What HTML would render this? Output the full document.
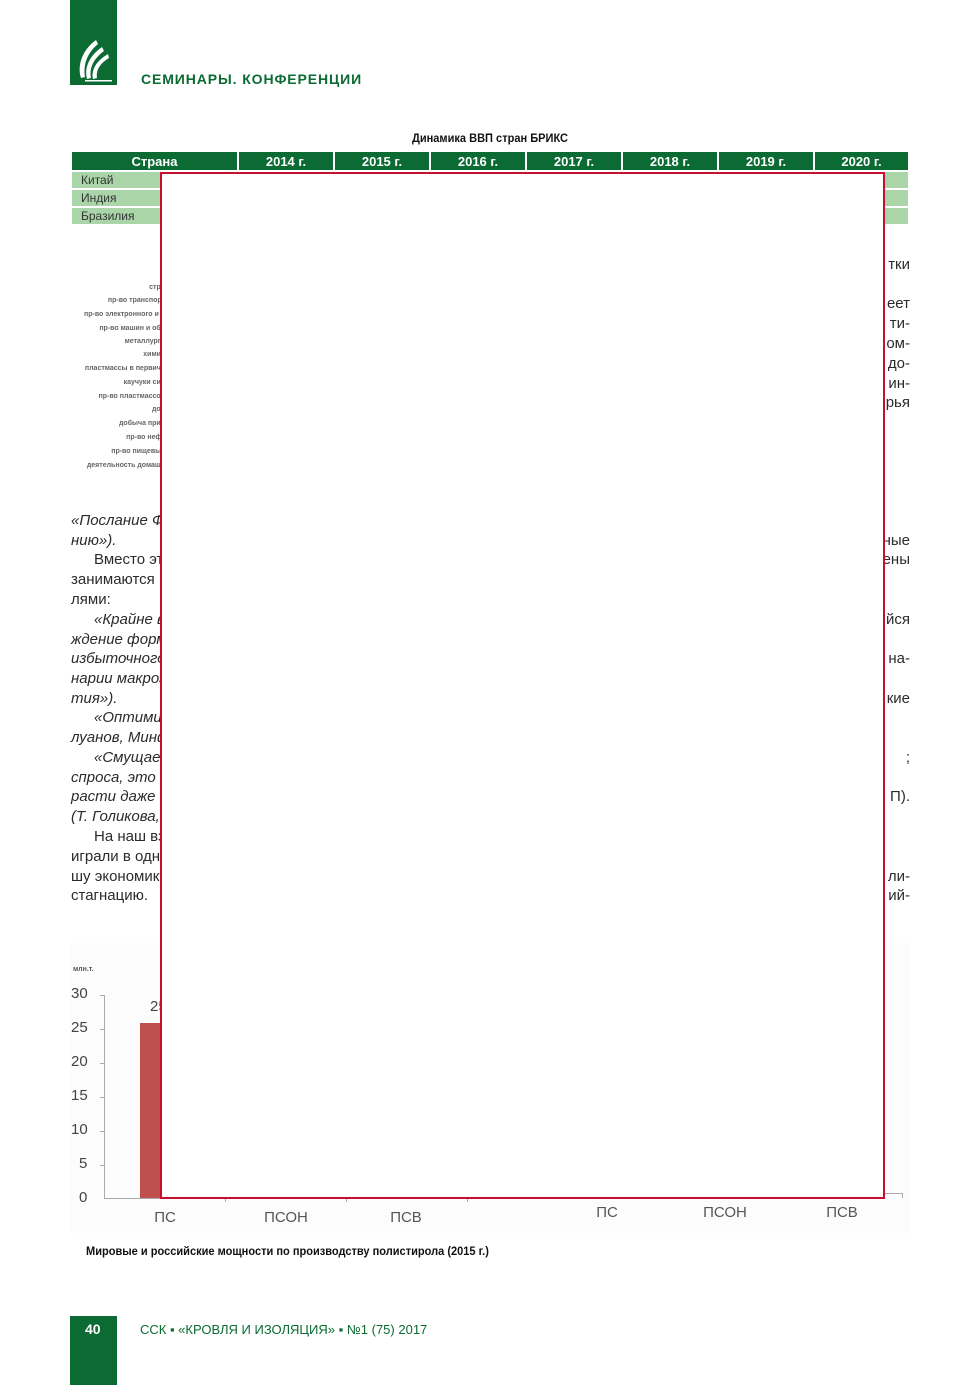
<!DOCTYPE html>
<html><head><meta charset="utf-8">
<style>
*{margin:0;padding:0;box-sizing:border-box}
body{width:980px;height:1385px;background:#fff;position:relative;overflow:hidden;font-family:"Liberation Sans","DejaVu Sans",sans-serif;color:#2b2b2b}
.a{position:absolute;white-space:nowrap}
.t{font-size:15px;line-height:20px;left:71px}
.i{font-style:italic}
.r{font-size:15px;line-height:20px;right:70px;text-align:right}
.sm{font-size:7px;font-weight:bold;color:#666;right:815px;text-align:right;line-height:8px}
.th{position:absolute;top:152px;height:18px;background:#0b6b32;color:#fff;font-weight:bold;font-size:13px;line-height:19px;text-align:center}
.row{position:absolute;left:72px;width:836px;height:16px;background:#a9d5a9;font-size:12px;line-height:16px;color:#333;padding-left:9px}
.yl{position:absolute;left:71px;width:20px;font-size:15px;color:#444;line-height:16px}
.xl{position:absolute;font-size:15px;color:#555;line-height:16px;transform:translateX(-50%)}
</style></head><body>

<!-- logo -->
<div class="a" style="left:70px;top:0;width:47px;height:85px;background:#0b6b32"></div>
<svg class="a" style="left:70px;top:0" width="47" height="85" viewBox="0 0 47 85">
<path d="M11 78 C7 66 12 50 26 40 L28 44 C17 53 13 65 15 77 Z" fill="#fff"/>
<path d="M17 79 C14 68 19 56 32 47 L34 51 C23 59 19 69 21 78 Z" fill="#fff"/>
<path d="M23 79 C21 70 26 61 38 54 L39 58 C29 64 26 71 27 78 Z" fill="#fff"/>
<path d="M15 80 L42 80 L42 81.5 L15 81.5 Z" fill="#fff"/>
</svg>
<div class="a" style="left:141px;top:71px;font-size:14px;font-weight:bold;color:#0b6b32;letter-spacing:0.9px">СЕМИНАРЫ. КОНФЕРЕНЦИИ</div>

<!-- table -->
<div class="a" style="left:490px;top:131px;font-size:12px;font-weight:bold;color:#111;transform:translateX(-50%) scaleX(0.92)">Динамика ВВП стран БРИКС</div>
<div class="th" style="left:72px;width:165px">Страна</div>
<div class="th" style="left:239px;width:94px">2014 г.</div>
<div class="th" style="left:335px;width:94px">2015 г.</div>
<div class="th" style="left:431px;width:94px">2016 г.</div>
<div class="th" style="left:527px;width:94px">2017 г.</div>
<div class="th" style="left:623px;width:94px">2018 г.</div>
<div class="th" style="left:719px;width:94px">2019 г.</div>
<div class="th" style="left:815px;width:93px">2020 г.</div>
<div class="row" style="top:172px">Китай</div>
<div class="row" style="top:190px">Индия</div>
<div class="row" style="top:208px">Бразилия</div>

<!-- small chart labels -->
<div class="a sm" style="top:284px">стро</div>
<div class="a sm" style="top:297px">пр-во транспорт</div>
<div class="a sm" style="top:311px">пр-во электронного и о</div>
<div class="a sm" style="top:325px">пр-во машин и обо</div>
<div class="a sm" style="top:338px">металлурги</div>
<div class="a sm" style="top:351px">химич</div>
<div class="a sm" style="top:365px">пластмассы в первичн</div>
<div class="a sm" style="top:379px">каучуки син</div>
<div class="a sm" style="top:393px">пр-во пластмассов</div>
<div class="a sm" style="top:406px">доб</div>
<div class="a sm" style="top:420px">добыча прир</div>
<div class="a sm" style="top:434px">пр-во нефт</div>
<div class="a sm" style="top:448px">пр-во пищевых</div>
<div class="a sm" style="top:462px">деятельность домашн</div>

<!-- left text -->
<div class="a t i" style="top:511px">«Послание Федеральному</div>
<div class="a t i" style="top:531px">нию»).</div>
<div class="a t" style="top:550px;left:94px">Вместо этого</div>
<div class="a t" style="top:570px">занимаются пустыми</div>
<div class="a t" style="top:590px">лями:</div>
<div class="a t i" style="top:610px;left:94px">«Крайне важно</div>
<div class="a t i" style="top:630px">ждение формирования</div>
<div class="a t i" style="top:649px">избыточного</div>
<div class="a t i" style="top:669px">нарии макроэкономического</div>
<div class="a t i" style="top:689px">тия»).</div>
<div class="a t i" style="top:708px;left:94px">«Оптимизм</div>
<div class="a t i" style="top:728px">луанов, Минфин</div>
<div class="a t i" style="top:748px;left:94px">«Смущает</div>
<div class="a t i" style="top:768px">спроса, это снижение</div>
<div class="a t i" style="top:787px">расти даже</div>
<div class="a t i" style="top:807px">(Т. Голикова, Счетная</div>
<div class="a t" style="top:827px;left:94px">На наш взгляд</div>
<div class="a t" style="top:847px">играли в одну</div>
<div class="a t" style="top:867px">шу экономику</div>
<div class="a t" style="top:886px">стагнацию.</div>

<!-- right text -->
<div class="a r" style="top:255px">тки</div>
<div class="a r" style="top:294px">еет</div>
<div class="a r" style="top:314px">ти-</div>
<div class="a r" style="top:334px">ом-</div>
<div class="a r" style="top:354px">до-</div>
<div class="a r" style="top:374px">&nbsp;ин-</div>
<div class="a r" style="top:393px">рья</div>
<div class="a r" style="top:531px">ные</div>
<div class="a r" style="top:550px">ены</div>
<div class="a r" style="top:610px">йся</div>
<div class="a r" style="top:649px">на-</div>
<div class="a r" style="top:689px">кие</div>
<div class="a r" style="top:748px">;</div>
<div class="a r" style="top:787px">П).</div>
<div class="a r" style="top:867px">ли-</div>
<div class="a r" style="top:886px">ий-</div>

<!-- bottom chart -->
<div class="a" style="left:70px;top:943px;width:840px;height:290px;background:#fcfcfc"></div>
<div class="a" style="left:73px;top:966px;font-size:7px;font-weight:bold;color:#555">млн.т.</div>
<div class="yl" style="top:986px">30</div>
<div class="yl" style="top:1020px">25</div>
<div class="yl" style="top:1054px">20</div>
<div class="yl" style="top:1088px">15</div>
<div class="yl" style="top:1122px">10</div>
<div class="yl" style="top:1156px;left:79px">5</div>
<div class="yl" style="top:1190px;left:79px">0</div>
<div class="a" style="left:104px;top:995px;width:1px;height:204px;background:#aaa"></div>
<div class="a" style="left:100px;top:995px;width:4px;height:1px;background:#aaa"></div>
<div class="a" style="left:100px;top:1029px;width:4px;height:1px;background:#aaa"></div>
<div class="a" style="left:100px;top:1063px;width:4px;height:1px;background:#aaa"></div>
<div class="a" style="left:100px;top:1097px;width:4px;height:1px;background:#aaa"></div>
<div class="a" style="left:100px;top:1131px;width:4px;height:1px;background:#aaa"></div>
<div class="a" style="left:100px;top:1165px;width:4px;height:1px;background:#aaa"></div>
<div class="a" style="left:104px;top:1198px;width:364px;height:1px;background:#aaa"></div>
<div class="a" style="left:225px;top:1198px;width:1px;height:4px;background:#aaa"></div>
<div class="a" style="left:346px;top:1198px;width:1px;height:4px;background:#aaa"></div>
<div class="a" style="left:467px;top:1198px;width:1px;height:4px;background:#aaa"></div>
<div class="a" style="left:140px;top:1023px;width:30px;height:175px;background:#c0504d"></div>
<div class="a" style="left:150px;top:998px;font-size:15px;color:#444">25</div>
<div class="xl" style="left:165px;top:1210px">ПС</div>
<div class="xl" style="left:286px;top:1210px">ПСОН</div>
<div class="xl" style="left:406px;top:1210px">ПСВ</div>
<div class="a" style="left:870px;top:1193px;width:33px;height:1px;background:#aaa"></div>
<div class="a" style="left:902px;top:1193px;width:1px;height:5px;background:#aaa"></div>
<div class="xl" style="left:607px;top:1205px">ПС</div>
<div class="xl" style="left:725px;top:1205px">ПСОН</div>
<div class="xl" style="left:842px;top:1205px">ПСВ</div>

<div class="a" style="left:86px;top:1244px;font-size:12px;font-weight:bold;color:#111;transform-origin:0 0;transform:scaleX(0.92)">Мировые и российские мощности по производству полистирола (2015 г.)</div>

<!-- overlay box -->
<div class="a" style="left:160px;top:172px;width:725px;height:1027px;background:#fff;border:2px solid #c8102e"></div>

<!-- footer -->
<div class="a" style="left:70px;top:1316px;width:47px;height:69px;background:#0b6b32"></div>
<div class="a" style="left:85px;top:1321px;font-size:14px;font-weight:bold;color:#fff">40</div>
<div class="a" style="left:140px;top:1322px;font-size:13px;color:#0b6b32">ССК ▪ «КРОВЛЯ И ИЗОЛЯЦИЯ» ▪ №1 (75) 2017</div>
</body></html>
